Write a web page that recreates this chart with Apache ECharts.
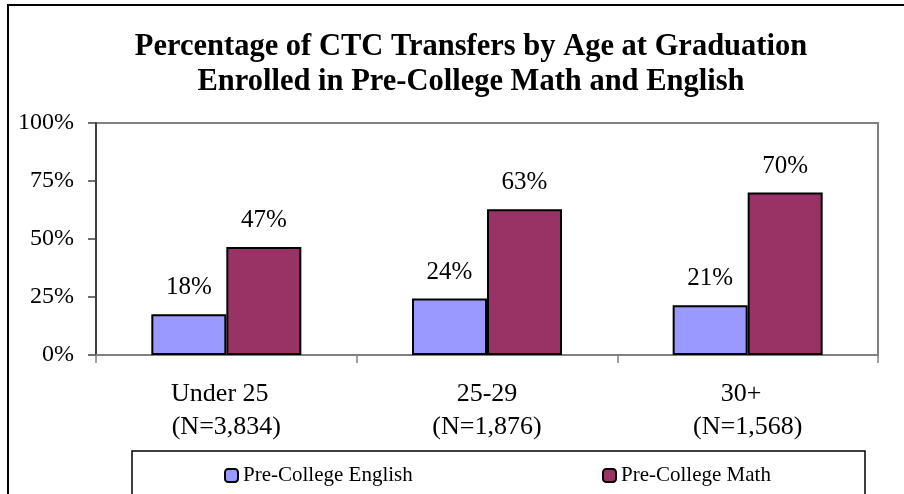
<!DOCTYPE html>
<html>
<head>
<meta charset="utf-8">
<script src="https://cdn.jsdelivr.net/npm/echarts@6/dist/echarts.min.js"></script>
<style>html,body{margin:0;padding:0;background:#fff;}#c{width:904px;height:494px;}</style>
</head>
<body>
<div id="c"></div>
<script>
const titleLines = ['Percentage of CTC Transfers by Age at Graduation', 'Enrolled in Pre-College Math and English'];
const categories = ['Under 25  \n(N=3,834)', '25-29\n(N=1,876)', '30+  \n(N=1,568)'];
const seriesNames = ['Pre-College English', 'Pre-College Math'];
const englishValues = [17.6, 24.3, 21.4];
const mathValues = [46.6, 62.8, 70.0];
const yTicks = [0, 25, 50, 75, 100];

const FONT = "'Liberation Serif', 'Times New Roman', serif";
const chart = echarts.init(document.getElementById('c'), null, {renderer: 'canvas'});
const labelCfg = {
  show: true, position: 'top', distance: 14,
  fontFamily: FONT, fontSize: 25, color: '#000',
  formatter: p => Math.round(p.value) + '%'
};
const legendBase = {
  padding: 0, top: 465, itemWidth: 13, itemHeight: 13,
  itemStyle: {borderColor: '#000', borderWidth: 2},
  textStyle: {fontFamily: FONT, fontSize: 21, color: '#000'}
};
chart.setOption({
  animation: false,
  backgroundColor: '#fff',
  title: {
    text: titleLines.join('\n'),
    left: 471, textAlign: 'center', top: 30, padding: 0,
    textStyle: {fontFamily: FONT, fontSize: 30.5, fontWeight: 'bold', color: '#000', lineHeight: 35}
  },
  graphic: [
    {type: 'rect', shape: {x: 8, y: 5, width: 1200, height: 1200}, style: {fill: 'none', stroke: '#000', lineWidth: 2}, z: 100},
    {type: 'rect', shape: {x: 132, y: 451, width: 733, height: 200}, style: {fill: 'none', stroke: '#000', lineWidth: 1.5}, z: 100}
  ],
  legend: [
    Object.assign({data: [seriesNames[0]], left: 224}, legendBase),
    Object.assign({data: [seriesNames[1]], left: 602}, legendBase)
  ],
  grid: {left: 96, right: 26, top: 123, bottom: 139, show: true, borderColor: '#808080', borderWidth: 2, containLabel: false},
  xAxis: {
    type: 'category', data: categories,
    axisLine: {lineStyle: {color: '#808080', width: 2}},
    axisTick: {show: true, length: 8, lineStyle: {color: '#808080', width: 1.5}},
    axisLabel: {fontFamily: FONT, fontSize: 26, color: '#000', margin: 23, lineHeight: 33, interval: 0}
  },
  yAxis: {
    type: 'value', min: 0, max: 100, interval: 25,
    axisLine: {show: true, lineStyle: {color: '#404040', width: 2}},
    axisTick: {show: true, length: 8, lineStyle: {color: '#404040', width: 1.5}},
    splitLine: {show: false},
    axisLabel: {fontFamily: FONT, fontSize: 24, color: '#000', margin: 22, formatter: v => yTicks.includes(v) ? v + '%' : ''}
  },
  series: [
    {name: seriesNames[0], type: 'bar', data: englishValues, barWidth: 75, barGap: '0%',
     itemStyle: {color: '#9999FF', borderColor: '#000', borderWidth: 2}, label: labelCfg},
    {name: seriesNames[1], type: 'bar', data: mathValues, barWidth: 75, barGap: '0%',
     itemStyle: {color: '#993366', borderColor: '#000', borderWidth: 2}, label: labelCfg}
  ]
});
</script>
</body>
</html>
